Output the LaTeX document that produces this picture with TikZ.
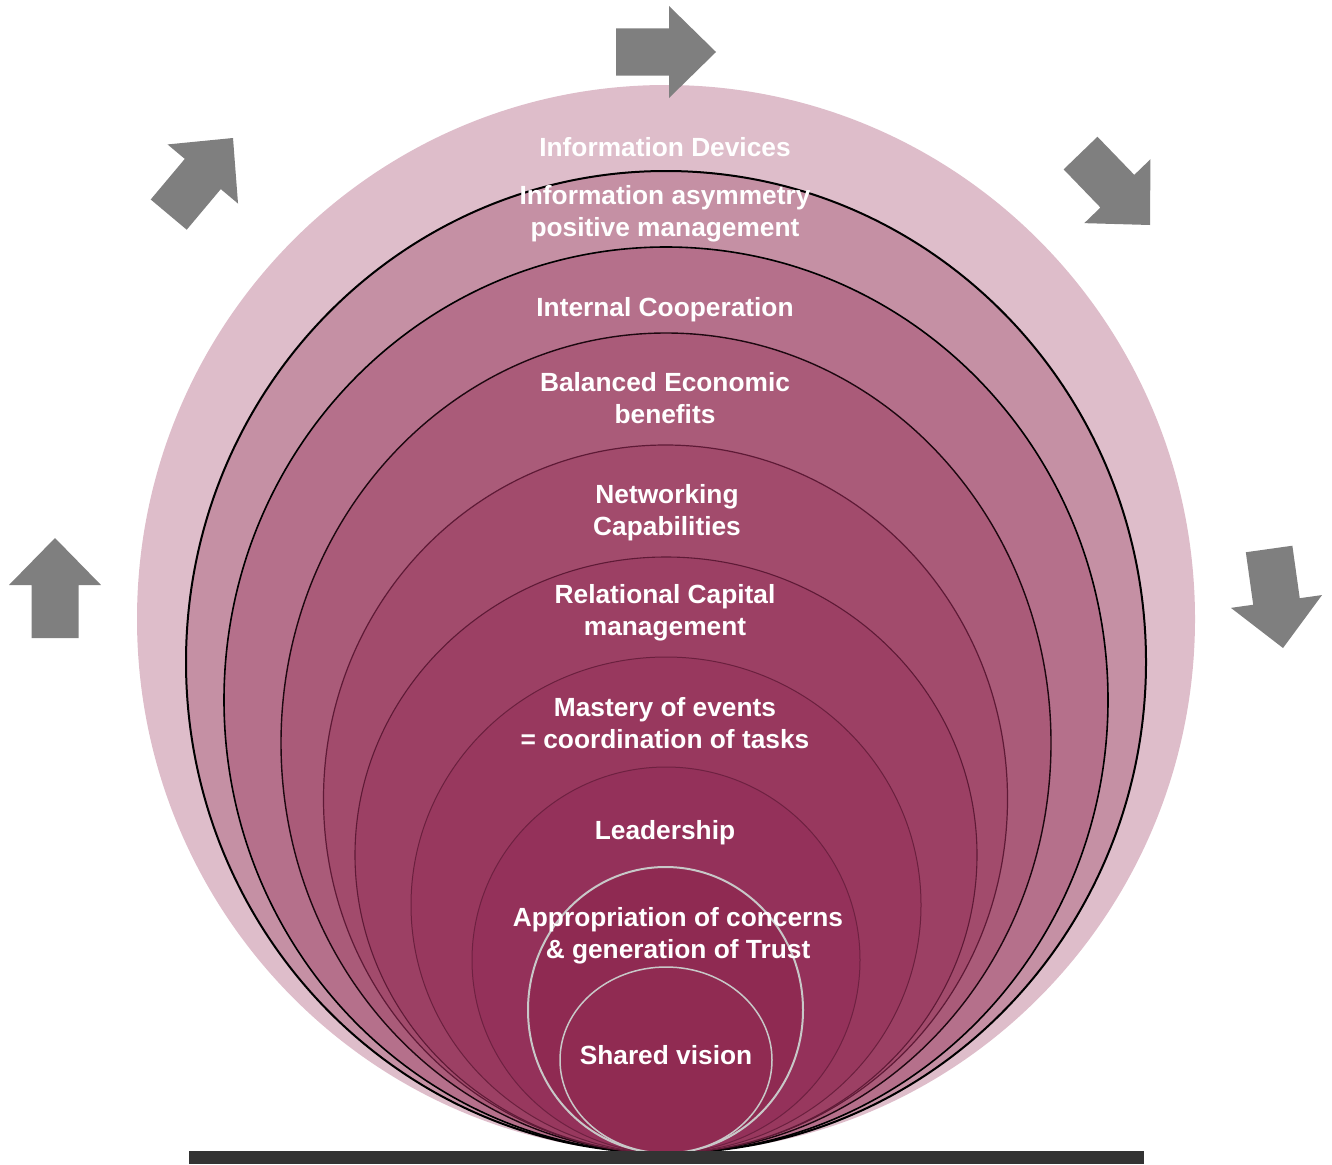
\documentclass[tikz,border=0pt]{standalone}
\usepackage{fontspec}
\setmainfont{Liberation Sans}
\definecolor{c1}{HTML}{DEBDCA}
\definecolor{c2}{HTML}{C590A4}
\definecolor{c3}{HTML}{B5708B}
\definecolor{c4}{HTML}{AA5B79}
\definecolor{c5}{HTML}{A24B6C}
\definecolor{c6}{HTML}{9C4064}
\definecolor{c7}{HTML}{98385E}
\definecolor{c8}{HTML}{94315A}
\definecolor{c9}{HTML}{8F2A52}
\definecolor{c10}{HTML}{902B52}
\definecolor{ringdark}{HTML}{5E1A36}
\definecolor{ringgray}{HTML}{C8C8C8}
\definecolor{arrowgray}{HTML}{7F7F7F}
\definecolor{bargray}{HTML}{333333}
\begin{document}
\begin{tikzpicture}[x=1pt,y=-1pt,
  lbl/.style={text=white,align=center,inner sep=0pt,font=\fontsize{26.3}{32}\selectfont\bfseries},
  blockarrow/.style={fill=arrowgray}]
\useasboundingbox (0,0) rectangle (1332,1164);
% nested ellipses, all touching the base at the bottom
\fill[c1] (666,619) ellipse [x radius=529pt, y radius=534pt];
\filldraw[fill=c2, draw=black, line width=2pt] (666,662) ellipse [x radius=480pt, y radius=491pt];
\filldraw[fill=c3, draw=black, line width=1.6pt] (666,700) ellipse [x radius=442pt, y radius=453pt];
\filldraw[fill=c4, draw=black!80!c9, line width=1.4pt] (666,743) ellipse [x radius=385pt, y radius=410pt];
\filldraw[fill=c5, draw=ringdark, line width=1.2pt] (665.5,799) ellipse [x radius=342pt, y radius=354pt];
\filldraw[fill=c6, draw=ringdark, line width=1.1pt] (666,855) ellipse [x radius=311pt, y radius=298pt];
\filldraw[fill=c7, draw=ringdark!80!c7, line width=1pt] (666,905) ellipse [x radius=255pt, y radius=248pt];
\filldraw[fill=c8, draw=ringdark!70!c8, line width=1pt] (666,960) ellipse [x radius=194pt, y radius=193pt];
\filldraw[fill=c9, draw=ringgray, line width=2pt] (665.5,1010) ellipse [x radius=137.5pt, y radius=143pt];
\filldraw[fill=c10, draw=ringgray, line width=1.5pt] (666,1060) ellipse [x radius=106pt, y radius=93pt];
% base bar
\fill[bargray] (189,1151) rectangle (1144,1164);
% labels
\node[lbl] (t1) at (665,147) {Information Devices};
\node[lbl] (t2) at (665,214) {Information asymmetry\\positive management};
\node[lbl] (t3) at (665,310) {Internal Cooperation};
\node[lbl] (t4) at (665,398) {Balanced Economic\\benefits};
\node[lbl] (t5) at (667,513) {Networking\\Capabilities};
\node[lbl] (t6) at (665,613) {Relational Capital\\management};
\node[lbl] (t7) at (665,723) {Mastery of events\\= coordination of tasks};
\node[lbl] (t8) at (665,833) {Leadership};
\node[lbl] (t9) at (678,936) {Appropriation of concerns\\\& generation of Trust};
\node[lbl] (t10) at (666,1055) {Shared vision};
% block arrows around the circle
\foreach \px/\py/\ang in {716/52/0, 55/538/90, 233/138/50, 1150/225/-46, 1283/648/-82}{
  \fill[blockarrow, shift={(\px,\py)}, rotate=\ang]
    (0,0) -- (-47,46) -- (-47,23.5) -- (-100,23.5) -- (-100,-23.5) -- (-47,-23.5) -- (-47,-46) -- cycle;
}
\end{tikzpicture}
\end{document}
